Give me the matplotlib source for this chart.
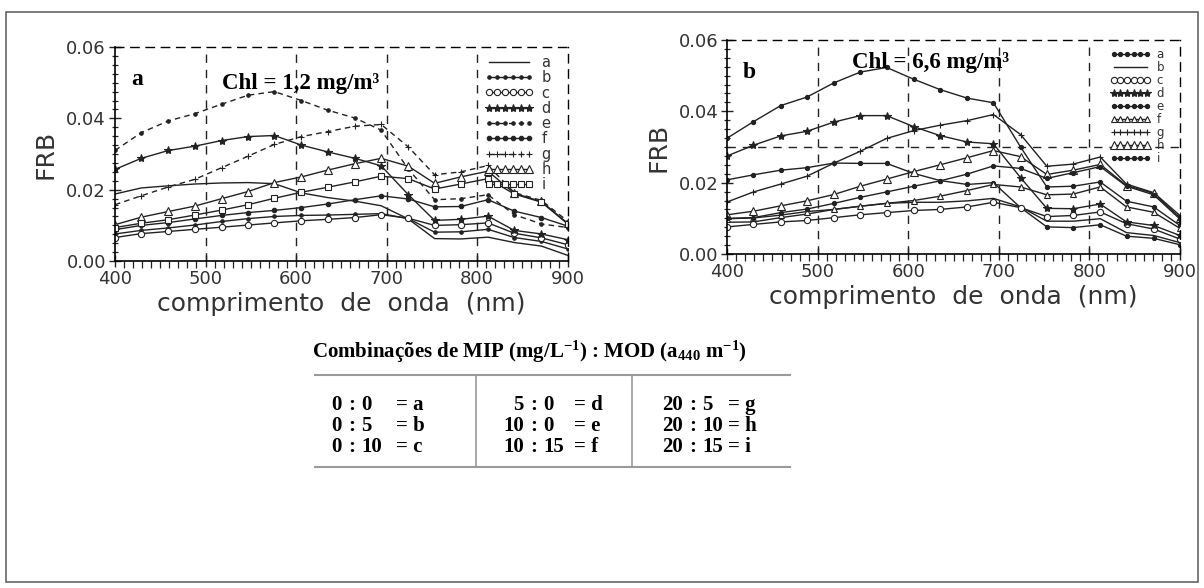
import matplotlib.pyplot as plt
from matplotlib.patches import Rectangle
from matplotlib.lines import Line2D
from matplotlib.ticker import MultipleLocator

# wavelengths of the plotted samples (nm)
wavelengths = [400, 429, 459, 488, 518, 547, 576, 606, 635, 665, 694, 724, 753, 782, 812, 841, 871, 900]
series = ['a', 'b', 'c', 'd', 'e', 'f', 'g', 'h', 'i']

# Chl = 1,2 mg/m3
chl1_a = [0.0188, 0.0205, 0.0211, 0.0216, 0.0219, 0.0220, 0.0217, 0.0191, 0.0178, 0.0168, 0.0155, 0.0118, 0.0063, 0.0062, 0.0067, 0.0052, 0.0042, 0.0016]
chl1_b = [0.0076, 0.0086, 0.0093, 0.0101, 0.0111, 0.0119, 0.0125, 0.0128, 0.0129, 0.0131, 0.0133, 0.0119, 0.0081, 0.0082, 0.0089, 0.0066, 0.0055, 0.0034]
chl1_c = [0.0066, 0.0077, 0.0083, 0.0089, 0.0095, 0.0101, 0.0107, 0.0113, 0.0117, 0.0122, 0.0130, 0.0120, 0.0100, 0.0102, 0.0107, 0.0078, 0.0065, 0.0046]
chl1_d = [0.0257, 0.0288, 0.0310, 0.0322, 0.0338, 0.0349, 0.0352, 0.0325, 0.0306, 0.0288, 0.0267, 0.0186, 0.0114, 0.0117, 0.0126, 0.0086, 0.0076, 0.0060]
chl1_e = [0.0310, 0.0360, 0.0393, 0.0413, 0.0440, 0.0465, 0.0475, 0.0450, 0.0423, 0.0401, 0.0367, 0.0258, 0.0172, 0.0175, 0.0186, 0.0130, 0.0104, 0.0094]
chl1_f = [0.0088, 0.0100, 0.0108, 0.0118, 0.0128, 0.0136, 0.0142, 0.0150, 0.0160, 0.0172, 0.0183, 0.0174, 0.0152, 0.0153, 0.0172, 0.0140, 0.0122, 0.0098]
chl1_g = [0.0158, 0.0183, 0.0208, 0.0229, 0.0262, 0.0294, 0.0327, 0.0349, 0.0363, 0.0378, 0.0383, 0.0320, 0.0242, 0.0250, 0.0268, 0.0192, 0.0170, 0.0112]
chl1_h = [0.0102, 0.0123, 0.0139, 0.0154, 0.0175, 0.0195, 0.0220, 0.0236, 0.0255, 0.0273, 0.0288, 0.0266, 0.0218, 0.0236, 0.0252, 0.0190, 0.0167, 0.0106]
chl1_i = [0.0094, 0.0106, 0.0116, 0.0129, 0.0143, 0.0158, 0.0176, 0.0193, 0.0207, 0.0222, 0.0238, 0.0231, 0.0202, 0.0216, 0.0231, 0.0188, 0.0165, 0.0104]

# Chl = 6,6 mg/m3
chl6_a = [0.0208, 0.0222, 0.0235, 0.0242, 0.0255, 0.0254, 0.0254, 0.0226, 0.0206, 0.0195, 0.0200, 0.0130, 0.0076, 0.0074, 0.0082, 0.0050, 0.0044, 0.0026]
chl6_b = [0.0089, 0.0090, 0.0102, 0.0112, 0.0125, 0.0134, 0.0142, 0.0145, 0.0145, 0.0149, 0.0156, 0.0132, 0.0092, 0.0092, 0.0099, 0.0060, 0.0052, 0.0032]
chl6_c = [0.0076, 0.0083, 0.0090, 0.0094, 0.0102, 0.0110, 0.0116, 0.0122, 0.0125, 0.0132, 0.0145, 0.0130, 0.0105, 0.0108, 0.0118, 0.0085, 0.0070, 0.0042]
chl6_d = [0.0275, 0.0305, 0.0331, 0.0344, 0.0370, 0.0388, 0.0388, 0.0357, 0.0332, 0.0314, 0.0309, 0.0214, 0.0128, 0.0127, 0.0140, 0.0090, 0.0080, 0.0052]
chl6_e = [0.0325, 0.0371, 0.0416, 0.0440, 0.0480, 0.0510, 0.0523, 0.0490, 0.0461, 0.0437, 0.0424, 0.0300, 0.0188, 0.0190, 0.0202, 0.0148, 0.0132, 0.0080]
chl6_f = [0.0099, 0.0101, 0.0109, 0.0119, 0.0125, 0.0134, 0.0142, 0.0150, 0.0162, 0.0178, 0.0195, 0.0188, 0.0166, 0.0168, 0.0188, 0.0132, 0.0117, 0.0072]
chl6_g = [0.0146, 0.0174, 0.0196, 0.0218, 0.0255, 0.0288, 0.0324, 0.0346, 0.0361, 0.0374, 0.0391, 0.0335, 0.0246, 0.0252, 0.0272, 0.0196, 0.0172, 0.0108]
chl6_h = [0.0110, 0.0120, 0.0135, 0.0149, 0.0167, 0.0190, 0.0210, 0.0231, 0.0250, 0.0270, 0.0290, 0.0273, 0.0223, 0.0235, 0.0251, 0.0192, 0.0170, 0.0102]
chl6_i = [0.0100, 0.0102, 0.0116, 0.0126, 0.0142, 0.0159, 0.0174, 0.0190, 0.0205, 0.0224, 0.0247, 0.0240, 0.0212, 0.0228, 0.0245, 0.0190, 0.0166, 0.0098]

# combination table MIP : MOD
mip = ['0', '0', '0', '5', '10', '10', '20', '20', '20']
mod = ['0', '5', '10', '0', '0', '15', '5', '10', '15']

INK = '#222222'
DASH = (0, (6, 5))

styles_a = {
    'a': dict(ls='-', marker=None),
    'b': dict(ls='-', marker='o', ms=2.5, mfc=INK),
    'c': dict(ls='-', marker='o', ms=4.5, mfc='white'),
    'd': dict(ls='-', marker='*', ms=6, mfc=INK),
    'e': dict(ls=(0, (4, 3)), marker='o', ms=2.5, mfc=INK),
    'f': dict(ls='-', marker='o', ms=3.2, mfc=INK),
    'g': dict(ls=(0, (4, 3)), marker='+', ms=5),
    'h': dict(ls='-', marker='^', ms=6, mfc='white'),
    'i': dict(ls='-', marker='s', ms=4, mfc='white'),
}
styles_b = {
    'a': dict(ls='-', marker='o', ms=3, mfc=INK),
    'b': dict(ls='-', marker=None),
    'c': dict(ls='-', marker='o', ms=4.5, mfc='white'),
    'd': dict(ls='-', marker='*', ms=6, mfc=INK),
    'e': dict(ls='-', marker='o', ms=3, mfc=INK),
    'f': dict(ls='-', marker='^', ms=4, mfc='white'),
    'g': dict(ls='-', marker='+', ms=5),
    'h': dict(ls='-', marker='^', ms=6, mfc='white'),
    'i': dict(ls='-', marker='o', ms=3, mfc=INK),
}

plt.rcParams['mathtext.fontset'] = 'custom'
plt.rcParams['mathtext.rm'] = 'Liberation Serif:bold'
plt.rcParams['mathtext.it'] = 'Liberation Serif:bold'
plt.rcParams['mathtext.bf'] = 'Liberation Serif:bold'

fig = plt.figure(figsize=(12.04, 5.88), dpi=100)
fig.patches.append(Rectangle((0.005, 0.01), 0.99, 0.97, transform=fig.transFigure,
                             fill=False, edgecolor='#666666', lw=1.2))

SANS = 'DejaVu Sans'


def draw_panel(rect, data, styles, letter, chl, chl_xy, leg_size, leg_space, leg_top, hline=None):
    ax = fig.add_axes(rect)
    for name, vals in zip(series, data):
        st = styles[name]
        ax.plot(wavelengths, vals, color=INK, lw=1.0, ls=st['ls'],
                marker=st['marker'], ms=st.get('ms', 0),
                mfc=st.get('mfc', INK), mec=INK, mew=0.8, label=name)
    ax.set_xlim(400, 900)
    ax.set_ylim(0, 0.06)
    ax.set_xticks([400, 500, 600, 700, 800, 900])
    ax.set_yticks([0.0, 0.02, 0.04, 0.06])
    ax.set_yticklabels(['0.00', '0.02', '0.04', '0.06'])
    ax.xaxis.set_minor_locator(MultipleLocator(10))
    ax.yaxis.set_minor_locator(MultipleLocator(0.0025))
    ax.tick_params(which='major', direction='inout', length=9, width=1, colors=INK,
                   labelsize=13, pad=2)
    ax.tick_params(axis='x', which='minor', direction='out', length=5, width=0.9, colors=INK)
    ax.tick_params(axis='y', which='minor', direction='inout', length=5, width=0.9, colors=INK)
    for lab in ax.get_xticklabels() + ax.get_yticklabels():
        lab.set_family(SANS)
        lab.set_color('#333333')
    for side in ['top', 'right']:
        ax.spines[side].set_linestyle(DASH)
        ax.spines[side].set_linewidth(1.0)
    for side in ['left', 'bottom']:
        ax.spines[side].set_linewidth(1.2)
    for x in [500, 600, 700, 800]:
        ax.axvline(x, color=INK, lw=1.0, ls=DASH, zorder=0)
    if hline is not None:
        ax.axhline(hline, color=INK, lw=1.0, ls=DASH, zorder=0)
    ax.set_xlabel('comprimento  de  onda  (nm)', fontsize=18, family=SANS,
                  color='#333333', labelpad=3)
    ax.set_ylabel('FRB', fontsize=18, family=SANS, color='#333333', labelpad=6)
    ax.text(0.035, 0.85, letter, transform=ax.transAxes, fontsize=17,
            fontweight='bold', family='Liberation Serif', va='center')
    ax.text(chl_xy[0], chl_xy[1], chl, transform=ax.transAxes, fontsize=16.5,
            fontweight='bold', family='Liberation Serif', ha='center', va='center')
    leg = ax.legend(loc='upper right', bbox_to_anchor=(0.975, leg_top), frameon=False,
                    numpoints=6, handlelength=3.4, handletextpad=0.5,
                    labelspacing=leg_space, borderaxespad=0,
                    prop=dict(family=SANS, size=leg_size))
    for t in leg.get_texts():
        t.set_color('#333333')
    return ax


draw_panel([0.0955, 0.556, 0.376, 0.364],
           [chl1_a, chl1_b, chl1_c, chl1_d, chl1_e, chl1_f, chl1_g, chl1_h, chl1_i],
           styles_a, 'a', 'Chl = 1,2 mg/m³', (0.41, 0.83), 10.5, 0.02, 0.99)
draw_panel([0.604, 0.568, 0.376, 0.364],
           [chl6_a, chl6_b, chl6_c, chl6_d, chl6_e, chl6_f, chl6_g, chl6_h, chl6_i],
           styles_b, 'b', 'Chl = 6,6 mg/m³', (0.45, 0.895), 8.5, 0.0, 0.985, hline=0.03)

# combinations table
fig.text(0.44, 0.401, r'Combinações de MIP (mg/L$^{-1}$) : MOD (a$_{440}$ m$^{-1}$)',
         family='Liberation Serif', fontweight='bold', fontsize=15, ha='center', va='center')
grey = '#9a9a9a'
fig.add_artist(Line2D([0.262, 0.656], [0.362, 0.362], color=grey, lw=1.5))
fig.add_artist(Line2D([0.262, 0.656], [0.206, 0.206], color=grey, lw=1.5))
fig.add_artist(Line2D([0.395, 0.395], [0.362, 0.206], color=grey, lw=1.2))
fig.add_artist(Line2D([0.525, 0.525], [0.362, 0.206], color=grey, lw=1.2))

colon_x = [0.292, 0.443, 0.575]
equal_x = [0.329, 0.477, 0.605]
row_y = [0.311, 0.275, 0.239]
tkw = dict(family='Liberation Serif', fontweight='bold', fontsize=15, va='center')
for k in range(9):
    col, row = divmod(k, 3)
    cx, ey, y = colon_x[col], equal_x[col], row_y[row]
    fig.text(cx - 0.008, y, mip[k], ha='right', **tkw)
    fig.text(cx, y, ':', ha='center', **tkw)
    fig.text(cx + 0.008, y, mod[k], ha='left', **tkw)
    fig.text(ey, y, '= ' + series[k], ha='left', **tkw)

fig.savefig('out.png', dpi=100)
